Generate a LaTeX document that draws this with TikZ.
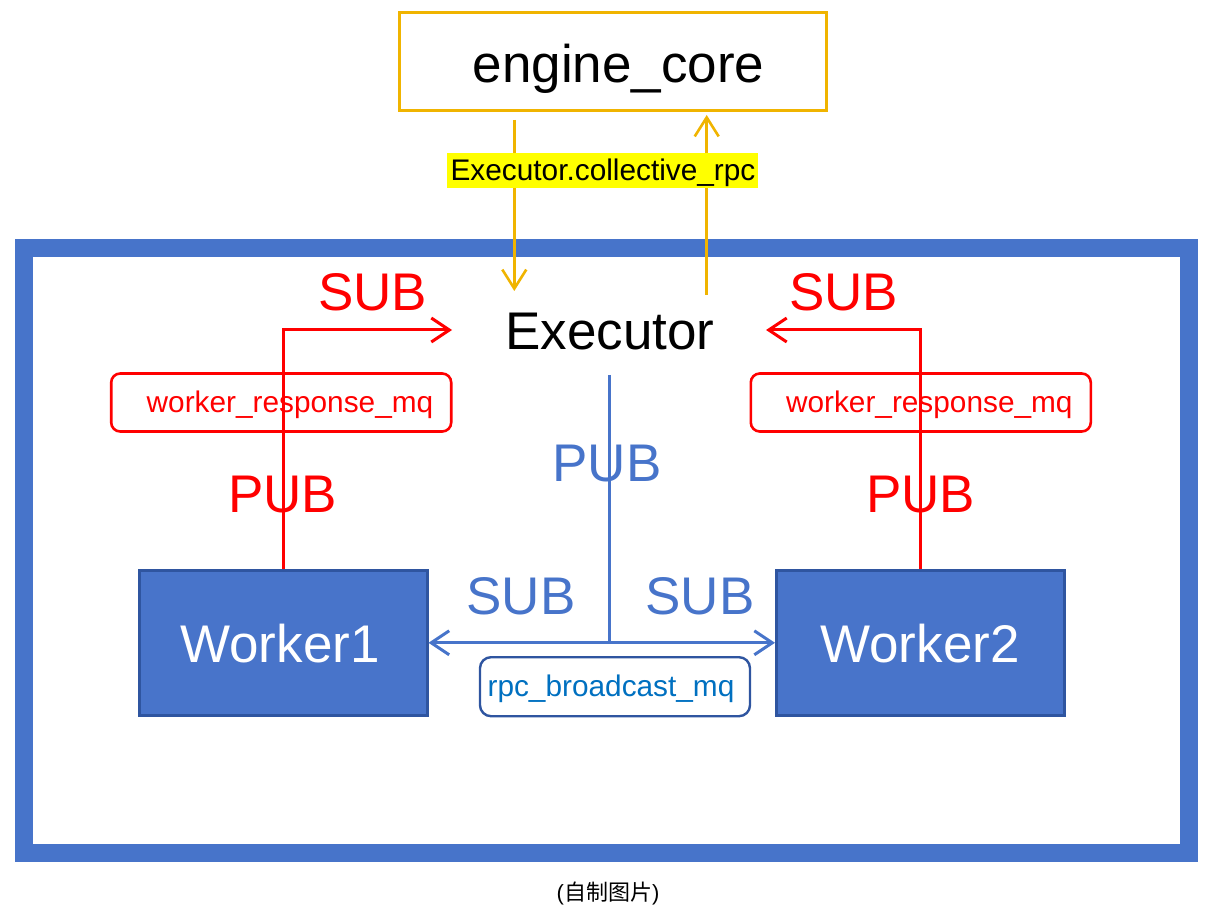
\documentclass[tikz,border=0pt]{standalone}
\usepackage{fontspec}
\setmainfont{Liberation Sans}
\newfontfamily\cjk{Noto Sans CJK SC}
\usetikzlibrary{arrows.meta}
\definecolor{eyellow}{RGB}{240,180,0}
\definecolor{fblue}{RGB}{71,116,202}
\definecolor{wfill}{RGB}{72,116,202}
\definecolor{wborder}{RGB}{47,85,160}
\definecolor{tblue}{RGB}{0,112,192}
\definecolor{hlyellow}{RGB}{255,255,0}
\definecolor{pred}{RGB}{255,0,0}
\newcommand{\bigfs}{\fontsize{53}{60}\selectfont}
\newcommand{\smallfs}{\fontsize{29.8}{34}\selectfont}
\tikzset{
  bigtxt/.style={anchor=base, inner sep=0pt, font=\bigfs},
  smalltxt/.style={anchor=base, inner sep=0pt, font=\smallfs},
  workerbox/.style={draw=wborder, fill=wfill, line width=3pt, minimum width=288pt, minimum height=145pt, inner sep=0pt},
  mqred/.style={draw=pred, line width=2.6pt, rounded corners=9pt, minimum width=340pt, minimum height=58pt, inner sep=0pt},
  redarrow/.style={draw=pred, line width=3pt, -{Straight Barb[length=18pt,width=24pt,line width=3pt]}},
  bluearrow/.style={draw=fblue, line width=3pt},
  yelarrow/.style={draw=eyellow, line width=2.6pt},
  yhead/.style={-{Straight Barb[length=19pt,width=24pt,line width=2.6pt]}},
  bhead/.style={{Straight Barb[length=18pt,width=24pt,line width=3pt]}-{Straight Barb[length=18pt,width=24pt,line width=3pt]}},
}
\begin{document}
\begin{tikzpicture}[x=1pt,y=-1pt]
\useasboundingbox (0,0) rectangle (1224,909);
% outer frame
\node[draw=fblue, line width=18pt, minimum width=1165pt, minimum height=605pt, inner sep=0pt] (frame) at (606.5,550.5) {};
% engine core
\node[draw=eyellow, line width=2.8pt, minimum width=427pt, minimum height=98pt, inner sep=0pt] (core) at (613,61.5) {};
\node[bigtxt] (coretxt) at (618.5,83) {engine\_core};
% executor
\node[bigtxt] (exec) at (610,349) {Executor};
% yellow arrows
\coordinate (ydownS) at (514.3,120);
\coordinate (ydownE) at (514.3,291);
\coordinate (yupS) at (706.7,295);
\coordinate (yupE) at (706.7,115);
\draw[yelarrow, yhead] (ydownS) -- (ydownE);
\draw[yelarrow, yhead] (yupS) -- (yupE);
\node[fill=hlyellow, inner sep=0pt, minimum width=311pt, minimum height=35.5pt] (rpchl) at (602.5,170.5) {};
\node[smalltxt] (rpclabel) at (603,181) {Executor.collective\_rpc};
% workers
\node[workerbox] (w1) at (283,642.8) {};
\node[bigtxt, text=white] (w1t) at (280,662) {Worker1};
\node[workerbox] (w2) at (920.5,642.8) {};
\node[bigtxt, text=white] (w2t) at (920,662) {Worker2};
% worker response mq boxes
\node[mqred] (mq1) at (281.2,402.5) {};
\node[smalltxt, text=pred] (mq1t) at (290,412.5) {worker\_response\_mq};
\node[mqred] (mq2) at (920.8,402.5) {};
\node[smalltxt, text=pred] (mq2t) at (929.3,412.5) {worker\_response\_mq};
% red arrows
\coordinate (r1end) at (452,330);
\coordinate (r2end) at (766,330);
\draw[redarrow] (w1.north) |- (r1end);
\draw[redarrow] (w2.north) |- (r2end);
% red labels
\node[bigtxt, text=pred] (sub1) at (372.5,310.5) {SUB};
\node[bigtxt, text=pred] (sub2) at (843.5,310.5) {SUB};
\node[bigtxt, text=pred] (pub1) at (282.5,512) {PUB};
\node[bigtxt, text=pred] (pub2) at (920.5,512) {PUB};
% blue broadcast
\coordinate (bvtop) at (609,375);
\coordinate (bvjoin) at (609,643);
\draw[bluearrow] (bvtop) -- (bvjoin);
\draw[bluearrow, bhead] (w1.east) -- (w2.west);
\node[bigtxt, text=fblue] (bpub) at (607,481.5) {PUB};
\node[bigtxt, text=fblue] (bsub1) at (521,614) {SUB};
\node[bigtxt, text=fblue] (bsub2) at (700,614) {SUB};
\node[draw=wborder, line width=2.4pt, rounded corners=11pt, minimum width=270pt, minimum height=59pt, inner sep=0pt] (bmq) at (615,686.7) {};
\node[smalltxt, text=tblue] (bmqt) at (611,696) {rpc\_broadcast\_mq};
% caption
\node[anchor=base, inner sep=0pt, font=\fontsize{22}{26}\selectfont] (cap) at (608,900) {({\cjk 自制图片})};
\end{tikzpicture}
\end{document}
